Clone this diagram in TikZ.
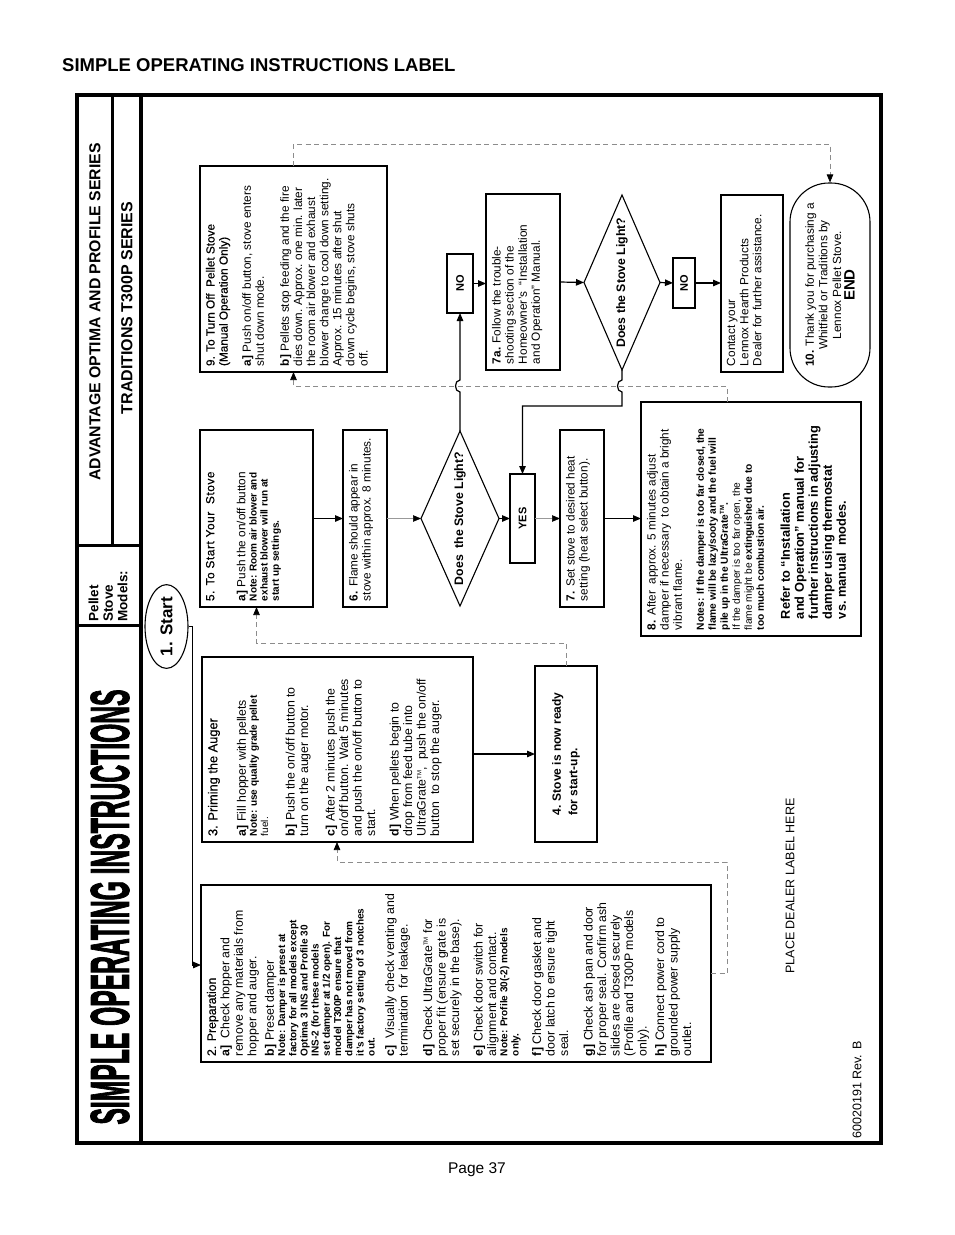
\documentclass[tikz,border=0pt]{standalone}
\usepackage{graphicx}
\usepackage{fontspec}
\setmainfont{Liberation Sans}
\newfontfamily\semib[FakeBold=0.5]{Liberation Sans}
\newfontfamily\heavy[FakeBold=2.6]{Liberation Sans Bold}
\usetikzlibrary{arrows.meta,shapes.geometric,calc}
\newcommand\bodyfont{\fontsize{11.8}{13.1}\selectfont\raggedright}
\newcommand\bigbody{\fontsize{12.3}{13.5}\selectfont\raggedright}
\newcommand\notefont{\fontsize{10}{11.2}\selectfont\bfseries}
\newcommand\TMk{\textsuperscript{\fontsize{6}{6}\selectfont TM}}
\newcommand\tbox[7][]{%
  \node[lbl,#1,minimum width={#6-#4},minimum height={#5-#3}] (#2) at ({(#3+#5)/2},{(#4+#6)/2})
  {\parbox[c][\dimexpr #5pt-#3pt-12pt\relax][t]{\dimexpr #6pt-#4pt-12pt\relax}{#7}};}
\begin{document}
\begin{tikzpicture}[x=1pt,y=-1pt,
  lbl/.style={draw,line width=1.2pt,rotate=90,inner sep=6pt,outer sep=0pt},
  tagbox/.style={draw,line width=1.4pt,rotate=90,inner sep=0pt,outer sep=0pt,font=\bfseries\fontsize{11}{13}\selectfont},
  diam/.style={draw,diamond,aspect=3,line width=1.1pt,rotate=90,inner sep=0pt,outer sep=0pt,font=\bfseries\fontsize{12.3}{13}\selectfont},
  atip/.style={-{Triangle[length=8pt,width=6.5pt,color=black]}},
  arr/.style={line width=1.2pt,atip},
  garr/.style={line width=0.6pt,draw=black!40,atip},
  dsh/.style={line width=0.7pt,draw=black!45,dash pattern=on 5pt off 3.5pt,atip},
]
\useasboundingbox (0,0) rectangle (954,1235);

% page texts
\node[anchor=base west,font=\bfseries\fontsize{18.5}{20}\selectfont,inner sep=0] (ttl) at (62,71) {SIMPLE OPERATING INSTRUCTIONS LABEL};
\node[font=\fontsize{15.5}{18}\selectfont] (pg) at (477,1170) {Page 37};

% frame and header
\draw[line width=4pt] (77,95) rectangle (881,1143);
\draw[line width=4pt] (141,95) -- (141,1143);
\draw[line width=3pt] (112,95) -- (112,545);
\draw[line width=3pt] (77,545) -- (141,545);
\draw[line width=3pt] (77,625) -- (141,625);
\node[rotate=90,font=\bfseries\fontsize{15.8}{18}\selectfont] (hadv) at (95,312) {ADVANTAGE OPTIMA AND PROFILE SERIES};
\node[rotate=90,font=\bfseries\fontsize{16}{18}\selectfont] (htrad) at (127,308) {TRADITIONS T300P SERIES};
\node[rotate=90,align=left,font=\bfseries\fontsize{13.5}{14.5}\selectfont] (hmod) at (108,596) {Pellet\\Stove\\Models:};
\node[rotate=90] (htitle) at (110,907) {\resizebox{435pt}{38pt}{\heavy SIMPLE OPERATING INSTRUCTIONS}};

% nodes
\node[draw,ellipse,rotate=90,line width=1.1pt,minimum width=77,minimum height=43,inner sep=0pt,font=\bfseries\fontsize{17}{18}\selectfont] (start) at (166.5,626.5) {1. Start};

\tbox{b2}{201}{885}{711}{1062}{\bigbody
{\semib 2. Preparation}\\
\textbf{a]}\ \ Check hopper and\\remove any materials from\\hopper and auger.\par\vspace{4pt}
\textbf{b]} Preset damper\par
{\notefont Note: Damper is preset at\\factory for all models except\\Optima 3 INS and Profile 30\\INS-2 (for these models\\set damper at 1/2 open). For\\model T300P ensure that\\damper has not moved from\\it's factory setting of 3 notches\\out.\par}\vspace{6pt}
\textbf{c]}\ \ Visually check venting and\\termination\ \ for leakage.\par\vspace{11pt}
\textbf{d]} Check UltraGrate\TMk\ for\\proper fit (ensure grate is\\set securely in the base).\par\vspace{10pt}
\textbf{e]} Check door switch for\\alignment and contact.\par
{\notefont Note: Profile 30(-2) models\\only.\par}\vspace{9pt}
\textbf{f]} Check door gasket and\\door latch to ensure tight\\seal.\par\vspace{11pt}
\textbf{g]} Check ash pan and door\\for proper seal. Confirm ash\\slides are closed securely\\(Profile and T300P models\\only).\par\vspace{4pt}
\textbf{h]} Connect power cord to\\grounded power supply\\outlet.}

\tbox{b3}{202}{657}{473}{842}{\bigbody
{\semib\fontsize{12.8}{14}\selectfont 3. Priming the Auger}\par\vspace{15pt}
\textbf{a]} Fill hopper with pellets\par
{\notefont Note: use quality grade pellet\\\mdseries fuel.\par}\vspace{13pt}
\textbf{b]} Push the on/off button to\\turn on the auger motor.\par\vspace{13pt}
\textbf{c]} After 2 minutes push the\\on/off button. Wait 5 minutes\\and push the on/off button to\\start.\par\vspace{10pt}
\textbf{d]} When pellets begin to\\drop from feed tube into\\UltraGrate\TMk,\ \ push the on/off\\button\ \ to stop the auger.}

\node[lbl,minimum width=176,minimum height=62,align=left,font=\bfseries\fontsize{12}{16.5}\selectfont] (b4) at (566,754) {4. Stove is now ready\\for start-up.};

\tbox{b5}{200}{430}{313}{607}{\bodyfont
{\semib\addfontfeature{LetterSpace=5}5. To Start Your\ \ Stove}\par\vspace{18pt}
\textbf{a]} Push the on/off button\par
{\notefont Note: Room air blower and\\exhaust blower will run at\\start up settings.\par}}

\tbox{b6}{343}{430}{387}{607}{\bodyfont\textbf{6.} Flame should appear in\\stove within approx. 8 minutes.}

\node[diam,minimum width=175,minimum height=78] (d1) at (460,518.5) {\makebox[0pt]{Does\ \ the Stove Light?}};
\node[tagbox,minimum width=89,minimum height=25] (yes) at (522.5,518.5) {YES};

\tbox{b7}{560}{430}{604}{607}{\bodyfont\textbf{7.} Set stove to desired heat\\setting (heat select button).}

\tbox{b8}{641}{402}{861}{636}{\bodyfont
\textbf{8.} After\ \ approx. 5 minutes adjust\\damper if necessary\ \ to obtain a bright\\vibrant flame.\par\vspace{10pt}
{\fontsize{10.2}{12}\selectfont\bfseries Notes: If the damper is too far closed, the\\flame will be lazy/sooty and the fuel will\\pile up in the UltraGrate\TMk.\\ \mdseries If the damper is too far open, the\\flame might be \bfseries extinguished due to\\too much combustion air.\par}\vspace{12pt}
{\fontsize{12.8}{14}\selectfont\bfseries\leftskip=11pt Refer to ``Installation\\and Operation'' manual for\\further instructions in adjusting\\damper using thermostat\\vs.\ manual\ \ modes.\par}}

\tbox{b9}{200}{166}{387}{372}{\bodyfont
{\semib 9. To Turn Off\ \ Pellet Stove\\(Manual Operation Only)}\par\vspace{10pt}
\textbf{a]} Push on/off button, stove enters\\shut down mode.\par\vspace{12pt}
\textbf{b]} Pellets stop feeding and the fire\\dies down. Approx. one min. later\\the room air blower and exhaust\\blower change to cool down setting.\\Approx. 15 minutes after shut\\down cycle begins, stove shuts\\off.}

\node[tagbox,minimum width=59,minimum height=26] (no1) at (460,283.5) {NO};
\tbox{b7a}{486}{194}{560}{370}{\bodyfont\textbf{7a.} Follow the trouble-\\shooting section of the\\Homeowner's\ \ ``Installation\\and Operation'' Manual.}
\node[diam,minimum width=175,minimum height=76] (d2) at (622,282.5) {\makebox[0pt]{Does the Stove Light?}};
\node[tagbox,minimum width=50,minimum height=22] (no2) at (684,283) {NO};
\tbox{bc}{721}{195}{783}{372}{\bodyfont Contact your\\Lennox Hearth Products\\Dealer for further assistance.}
\node[draw,rounded corners=39pt,rotate=90,line width=1.1pt,minimum width=204,minimum height=80,inner sep=0pt,align=center,font=\fontsize{11.8}{13.6}\selectfont] (end) at (830,285)
  {\textbf{10.} Thank you for purchasing a\\Whitfield or Traditions by\\Lennox Pellet Stove.\\{\bfseries\fontsize{15}{17}\selectfont END}};

\node[rotate=90,font=\fontsize{12.5}{14}\selectfont] (dealer) at (790,886) {PLACE DEALER LABEL HERE};
\node[rotate=90,font=\fontsize{12.5}{14}\selectfont] (rev) at (857,1090) {60020191 Rev. B};

% connectors
\coordinate (c1) at (192,965);
\draw[line width=0.9pt,atip] (start.south) -| (c1) -- (c1 -| b2.north);
\coordinate (c2) at (727,862);
\draw[dsh] (b2.south) -| (c2) -- (c2 -| 337,0) -- (337,842);
\draw[arr] (b3.south |- b4.north) -- (b4.north);
\draw[dsh] (b4.east) -- ++(0,-23) -| (b5.west);
\draw[arr] (b5.south) -- (b6.north);
\draw[garr] (b6.south) -- (d1.north);
\draw[arr] (d1.south) -- (yes.north);
\draw[garr] (yes.south) -- (b7.north);
\draw[arr] (b7.south) -- (b7.south -| b8.north);
\draw[arr] (d1.east) -- (460,392) .. controls (454,392) and (454,380) .. (460,380) -- (no1.west);
\draw[arr] (no1.south) -- (no1.south -| b7a.north);
\draw[arr] (b7a.south) -- (d2.north);
\draw[arr] (d2.south) -- (no2.north);
\draw[arr] (no2.south) -- (no2.south -| bc.north);
\draw[arr] (d2.west) -- (622,380) .. controls (616,380) and (616,392) .. (622,392) -- (622,406) -| (yes.east);
\draw[dsh] ([xshift=-24pt]b8.east) -- ++(0,-16) -| (b9.west);
\draw[dsh] (b9.east) -- ++(0,-22) -| (end.east);
\end{tikzpicture}
\end{document}
